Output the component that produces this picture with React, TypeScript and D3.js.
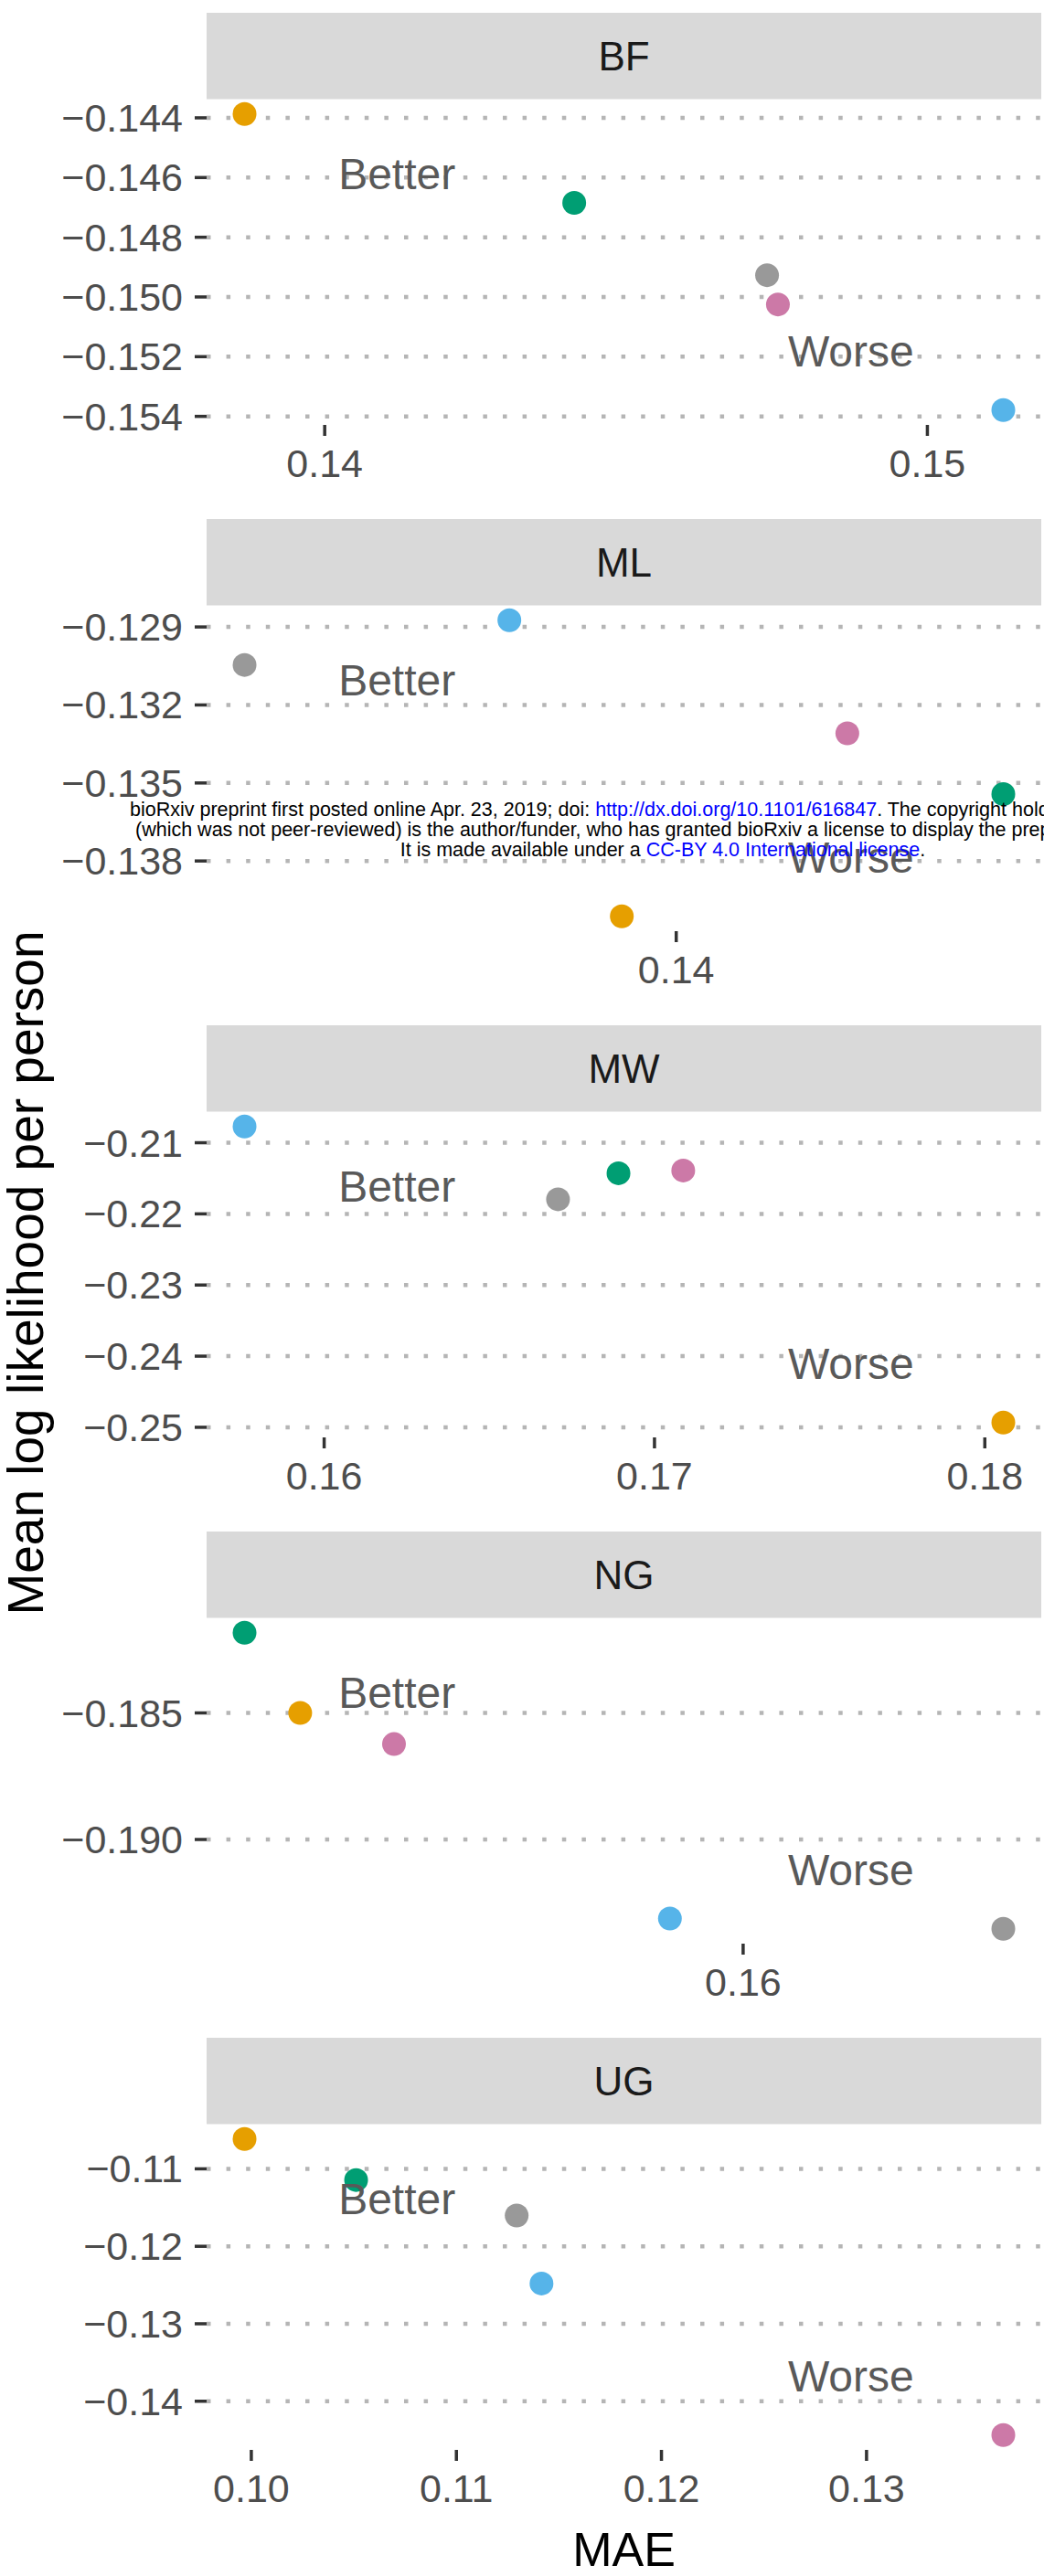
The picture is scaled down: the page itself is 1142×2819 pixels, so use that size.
import React from "react";
import * as d3 from "d3";

const W = 1142;
const H = 2819;

const panelNames = ["BF", "ML", "MW", "NG", "UG"];
// one colour per model, same order in every panel: orange, green, grey, pink, blue
const pointColors = ["#E69F00", "#009E73", "#999999", "#CC79A7", "#56B4E9"];

// MAE (x) and mean log likelihood per person (y), per panel
const maeBF = [0.13867, 0.14414, 0.14734, 0.14752, 0.15126];
const llBF = [-0.14387, -0.14685, -0.14927, -0.15025, -0.15379];

const maeML = [0.1391, 0.14541, 0.13286, 0.14283, 0.13724];
const llML = [-0.14013, -0.13543, -0.13046, -0.13309, -0.12874];

const maeMW = [0.18056, 0.16891, 0.16708, 0.17087, 0.15759];
const llMW = [-0.24934, -0.21429, -0.21795, -0.2139, -0.20771];

const maeNG = [0.15268, 0.15176, 0.1643, 0.15423, 0.15879];
const llNG = [-0.185, -0.18183, -0.19353, -0.18623, -0.19312];

const maeUG = [0.09967, 0.10511, 0.11294, 0.13667, 0.11415];
const llUG = [-0.10614, -0.11144, -0.11602, -0.14437, -0.1248];

const xTickBF = [0.14, 0.15];
const xTickML = [0.14];
const xTickMW = [0.16, 0.17, 0.18];
const xTickNG = [0.16];
const xTickUG = [0.1, 0.11, 0.12, 0.13];

const yTickBF = [-0.144, -0.146, -0.148, -0.15, -0.152, -0.154];
const yTickML = [-0.129, -0.132, -0.135, -0.138];
const yTickMW = [-0.21, -0.22, -0.23, -0.24, -0.25];
const yTickNG = [-0.185, -0.19];
const yTickUG = [-0.11, -0.12, -0.13, -0.14];

const yFormats = [".3f", ".3f", ".2f", ".3f", ".2f"];

const panels = [
  { mae: maeBF, ll: llBF, xt: xTickBF, yt: yTickBF },
  { mae: maeML, ll: llML, xt: xTickML, yt: yTickML },
  { mae: maeMW, ll: llMW, xt: xTickMW, yt: yTickMW },
  { mae: maeNG, ll: llNG, xt: xTickNG, yt: yTickNG },
  { mae: maeUG, ll: llUG, xt: xTickUG, yt: yTickUG },
];

const FONT = "'Liberation Sans', Arial, Helvetica, sans-serif";

// layout
const left = 226;
const right = 1139;
const firstStrip = 14;
const stripH = 94.5;
const panelH = 356.5;
const step = 554;

// ggplot style 5% expansion
const expand = (ext: number[]) => {
  const d = (ext[1] - ext[0]) * 0.05;
  return [ext[0] - d, ext[1] + d];
};

const Panel = ({ i }: { i: number }) => {
  const p = panels[i];
  const sTop = firstStrip + i * step;
  const top = sTop + stripH;
  const bottom = top + panelH;

  const x = d3
    .scaleLinear()
    .domain(expand(d3.extent(p.mae) as number[]))
    .range([left, right]);
  const y = d3
    .scaleLinear()
    .domain(expand(d3.extent(p.ll) as number[]))
    .range([bottom, top]);

  const fy = d3.format(yFormats[i]);
  const fx = d3.format(".2f");

  const w = right - left;

  return (
    <g>
      <rect x={left} y={sTop} width={w} height={stripH} fill="#d9d9d9" />
      <text
        x={(left + right) / 2}
        y={sTop + stripH / 2}
        textAnchor="middle"
        dominantBaseline="central"
        fontSize={44}
        fill="#1a1a1a"
      >
        {panelNames[i]}
      </text>

      {p.yt.map((t) => (
        <g key={t}>
          <line
            x1={left}
            x2={right}
            y1={y(t)}
            y2={y(t)}
            stroke="#b5b5b5"
            strokeWidth={4.5}
            strokeDasharray="4.5 17.1"
          />
          <line x1={213} x2={left} y1={y(t)} y2={y(t)} stroke="#333" strokeWidth={3.5} />
          <text
            x={200}
            y={y(t)}
            textAnchor="end"
            dominantBaseline="central"
            fontSize={43}
            fill="#4d4d4d"
          >
            {fy(t)}
          </text>
        </g>
      ))}

      {p.xt.map((t) => (
        <g key={t}>
          <line x1={x(t)} x2={x(t)} y1={bottom} y2={bottom + 12} stroke="#333" strokeWidth={3.5} />
          <text
            x={x(t)}
            y={bottom + 42}
            textAnchor="middle"
            dominantBaseline="central"
            fontSize={43}
            fill="#4d4d4d"
          >
            {fx(t)}
          </text>
        </g>
      ))}

      {p.mae.map((m, k) => (
        <circle key={k} cx={x(m)} cy={y(p.ll[k])} r={13} fill={pointColors[k]} />
      ))}

      <text
        x={left + 0.228 * w}
        y={top + 0.229 * panelH}
        textAnchor="middle"
        dominantBaseline="central"
        fontSize={48}
        fill="#595959"
      >
        Better
      </text>
      <text
        x={left + 0.772 * w}
        y={top + 0.775 * panelH}
        textAnchor="middle"
        dominantBaseline="central"
        fontSize={48}
        fill="#595959"
      >
        Worse
      </text>
    </g>
  );
};

export default function App() {
  return (
    <svg
      width={W}
      height={H}
      style={{ position: "absolute", left: 0, top: 0, background: "#fff" }}
      fontFamily={FONT}
    >
      <rect width={W} height={H} fill="#fff" />
      {panelNames.map((_, i) => (
        <Panel key={i} i={i} />
      ))}

      <text
        transform={`translate(47,1393) rotate(-90)`}
        textAnchor="middle"
        fontSize={55}
        fill="#000"
      >
        Mean log likelihood per person
      </text>
      <text x={(left + right) / 2} y={2808} textAnchor="middle" fontSize={52} fill="#000">
        MAE
      </text>

      {/* preprint watermark over the ML panel */}
      <g fontSize={21.5} dominantBaseline="central">
        <text x={142} y={886}>
          bioRxiv preprint first posted online Apr. 23, 2019; doi:{" "}
          <tspan fill="#0000ff">http://dx.doi.org/10.1101/616847</tspan>. The copyright holder for this preprint
        </text>
        <text x={148} y={908}>
          (which was not peer-reviewed) is the author/funder, who has granted bioRxiv a license to display the preprint in perpetuity.
        </text>
        <text x={725} y={930} textAnchor="middle">
          It is made available under a <tspan fill="#0000ff">CC-BY 4.0 International license</tspan>.
        </text>
      </g>
    </svg>
  );
}
